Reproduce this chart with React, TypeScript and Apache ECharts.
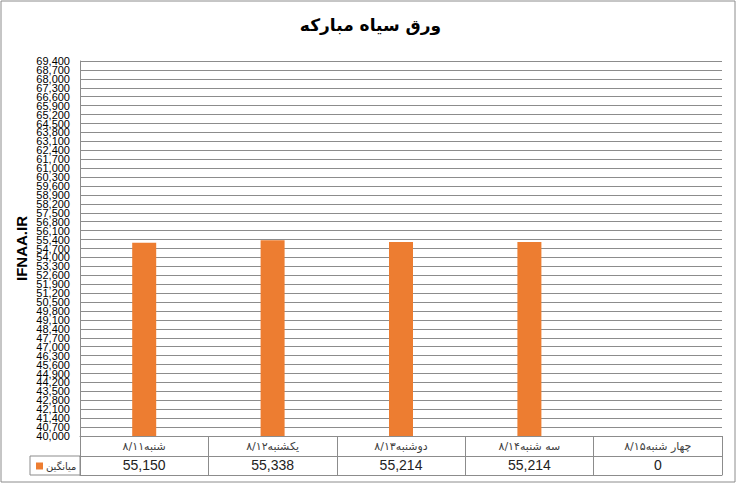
import React, { useEffect, useRef } from "react";
import * as echarts from "echarts";

const title = "ورق سیاه مبارکه";
const yAxisName = "IFNAA.IR";
const seriesName = "میانگین";
const categories = ["شنبه۸/۱۱", "یکشنبه۸/۱۲", "دوشنبه۸/۱۳", "سه شنبه۸/۱۴", "چهار شنبه۸/۱۵"];
const values = [55150, 55338, 55214, 55214, 0];
const yMin = 40000;
const yMax = 69400;
const yStep = 700;

const fmt = (v: number) => v.toLocaleString("en-US");
const valueLabels = values.map(fmt);

const GRID = "#8c8c8c";
const ORANGE = "#ed7d31";

const yLabelStyle = {
  margin: 10,
  fontFamily: "Liberation Sans",
  fontSize: 11,
  color: "#000",
};

export default function App() {
  const ref = useRef<HTMLDivElement>(null);
  useEffect(() => {
    if (!ref.current) return;
    const chart = echarts.init(ref.current, undefined, { renderer: "svg" });
    chart.setOption({
      animation: false,
      backgroundColor: "#ffffff",
      title: {
        text: title,
        left: "center",
        top: 11,
        textStyle: { fontFamily: "DejaVu Sans", fontWeight: "bold", fontSize: 17, color: "#000" },
      },
      legend: {
        left: 31,
        top: 456,
        icon: "rect",
        itemWidth: 7,
        itemHeight: 7,
        itemGap: 4,
        textStyle: { fontFamily: "DejaVu Sans", fontSize: 10, color: "#333", padding: [0, 0, 0, -2] },
        data: [seriesName],
      },
      grid: { left: 80, right: 19, top: 61, bottom: 52, containLabel: false },
      xAxis: [
        {
          type: "category",
          data: categories,
          position: "bottom",
          axisLine: { show: true, lineStyle: { color: GRID, width: 1 } },
          axisTick: { show: true, length: 20, interval: 0, lineStyle: { color: GRID } },
          axisLabel: {
            interval: 0,
            margin: 5,
            fontFamily: "DejaVu Sans",
            fontSize: 11,
            color: "#404040",
          },
        },
        {
          type: "category",
          data: valueLabels,
          position: "bottom",
          offset: 20,
          axisLine: { show: true, lineStyle: { color: GRID, width: 1 } },
          axisTick: { show: true, length: 19, interval: 0, lineStyle: { color: GRID } },
          axisLabel: {
            interval: 0,
            margin: 2,
            fontFamily: "Liberation Sans",
            fontSize: 14,
            color: "#222",
          },
        },
        {
          type: "category",
          data: valueLabels,
          position: "bottom",
          offset: 39,
          axisLine: { show: true, lineStyle: { color: GRID, width: 1 } },
          axisTick: { show: false },
          axisLabel: { show: false },
        },
      ],
      yAxis: [
        {
          type: "value",
          min: yMin,
          max: yMax,
          interval: yStep,
          name: yAxisName,
          nameLocation: "middle",
          nameRotate: 90,
          nameGap: 51,
          nameMoveOverlap: false,
          nameTextStyle: { fontFamily: "Liberation Sans", fontWeight: "bold", fontSize: 15, color: "#000" },
          axisLine: { show: true, lineStyle: { color: GRID } },
          axisTick: { show: false },
          splitLine: { show: true, lineStyle: { color: GRID, width: 1 } },
          axisLabel: {
            ...yLabelStyle,
            showMinLabel: true,
            showMaxLabel: true,
            formatter: (v: number) => fmt(v),
          },
        },
        {
          type: "value",
          min: yMin,
          max: yMax,
          interval: yStep,
          position: "left",
          axisLine: { show: false },
          axisTick: { show: false },
          splitLine: { show: false },
          axisLabel: {
            ...yLabelStyle,
            showMinLabel: false,
            showMaxLabel: false,
            formatter: (v: number) =>
              v === yMin + yStep || v === yMax - yStep ? fmt(v) : "",
          },
        },
      ],
      series: [
        {
          name: seriesName,
          type: "bar",
          data: values,
          barWidth: 24,
          clip: true,
          itemStyle: { color: ORANGE },
        },
      ],
      graphic: [
        {
          type: "rect",
          shape: { x: 1, y: 1, width: 734, height: 481 },
          style: { fill: "none", stroke: GRID, lineWidth: 1 },
          silent: true,
        },
        {
          type: "rect",
          shape: { x: 30, y: 456, width: 50, height: 19 },
          style: { fill: "none", stroke: GRID, lineWidth: 1 },
          silent: true,
        },
      ],
    });
    return () => chart.dispose();
  }, []);
  return (
    <div
      ref={ref}
      style={{ position: "fixed", left: 0, top: 0, width: 741, height: 488 }}
    />
  );
}
